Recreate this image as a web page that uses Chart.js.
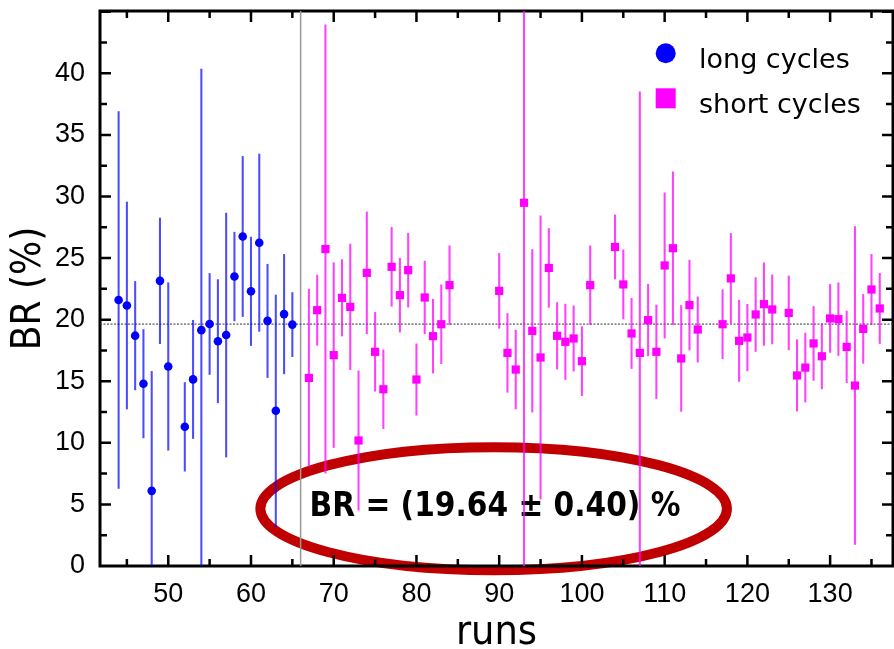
<!DOCTYPE html>
<html>
<head>
<meta charset="utf-8">
<title>BR vs runs</title>
<script src="https://cdn.jsdelivr.net/npm/chart.js@4.4.1/dist/chart.umd.min.js"></script>
<style>
  html, body { margin: 0; padding: 0; background: #fff; }
</style>
</head>
<body>
<canvas id="Chart" width="894" height="649"></canvas>
<script>
// long cycles (blue circles)
const longRuns = [44,45,46,47,48,49,50,52,53,54,55,56,57,58,59,60,61,62,63,64,65];
const longBR   = [21.6,21.15,18.7,14.8,6.1,23.15,16.2,11.3,15.15,19.15,19.65,18.25,18.75,23.5,26.75,22.3,26.25,19.9,12.6,20.45,19.6];
const longErr  = [15.3,8.4,4.4,4.4,9.7,5.1,6.8,3.6,4.8,21.2,4.1,5.0,9.9,3.6,6.5,4.4,7.2,4.6,9.4,4.85,2.6];

// short cycles (magenta squares)
const shortRuns = [67,68,69,70,71,72,73,74,75,76,77,78,79,80,81,82,83,84,
                   90,91,92,93,94,95,96,97,98,99,100,101,104,105,106,107,108,109,110,111,112,113,114,
                   117,118,119,120,121,122,123,125,126,127,128,129,130,131,132,133,134,135,136];
const shortBR   = [15.27,20.77,25.73,17.12,21.77,21.04,10.19,23.8,17.39,14.35,24.29,21.99,24.02,15.14,21.8,18.66,19.63,22.8,
                   22.34,17.3,15.95,29.49,19.09,16.93,24.2,18.69,18.2,18.47,16.63,22.8,25.9,22.86,18.88,17.3,19.96,17.39,24.4,25.8,16.85,21.18,19.2,
                   19.63,23.35,18.28,18.55,20.42,21.26,20.83,20.55,15.47,16.11,18.07,17.03,20.1,20.04,17.79,14.65,19.25,22.45,20.91];
const shortErr  = [7.2,2.85,18.2,7.5,3.1,5.1,5.65,4.95,3.2,3.2,3.2,3.0,3.0,2.9,2.95,3.0,3.2,3.2,
                   3.04,3.2,3.2,31,6.6,11.5,3.2,2.7,3.06,2.65,2.8,3.2,2.6,2.8,2.85,21.2,2.9,3.8,5.9,6.2,4.3,3.65,2.65,
                   2.8,3.65,3.3,2.7,3.0,3.35,2.8,3.0,2.9,2.8,3.0,2.65,2.76,2.95,2.9,12.9,2.8,2.85,2.85];

const brFit = 19.64;       // fitted value (dotted line)
const splitRun = 66;       // long / short separation
const fitText = 'BR = (19.64 \u00b1 0.40) %';

const xTicks = [50,60,70,80,90,100,110,120,130];
const yTicks = [0,5,10,15,20,25,30,35,40];
const xMin = 41.75, xMax = 137.6;
const yMin = 0, yMax = 45.06;

const errorBars = [];
const barColors = [];
longRuns.forEach((r, i) => {
  errorBars.push({x: r, y: [longBR[i] - longErr[i], longBR[i] + longErr[i]]});
  barColors.push('rgba(0,0,255,0.7)');
});
shortRuns.forEach((r, i) => {
  errorBars.push({x: r, y: [shortBR[i] - shortErr[i], shortBR[i] + shortErr[i]]});
  barColors.push('rgba(255,0,255,0.75)');
});

const narrow = "'Liberation Sans Narrow', 'DejaVu Sans Condensed', sans-serif";
const plain = "'Liberation Sans', Arial, sans-serif";

// frame with inward ticks, oval with the fit result, legend
const framePlugin = {
  id: 'frame',
  beforeDatasetsDraw(chart) {
    const {ctx, chartArea: a, scales: {x, y}} = chart;
    ctx.save();
    // oval
    const cx = x.getPixelForValue(89.33), cy = y.getPixelForValue(4.65);
    const rx = x.getPixelForValue(89.33 + 28.2) - cx;
    const ry = cy - y.getPixelForValue(4.65 + 5.0);
    ctx.strokeStyle = '#c00000';
    ctx.lineWidth = 10;
    ctx.beginPath();
    ctx.ellipse(cx, cy, rx, ry, 0, 0, 2 * Math.PI);
    ctx.stroke();
    ctx.fillStyle = '#000';
    ctx.font = "bold 33px 'DejaVu Sans Condensed', 'DejaVu Sans', sans-serif";
    ctx.textAlign = 'center';
    ctx.textBaseline = 'middle';
    ctx.fillText(fitText, x.getPixelForValue(89.5), y.getPixelForValue(4.73));

    // box
    ctx.strokeStyle = '#000';
    ctx.lineWidth = 3;
    ctx.strokeRect(a.left, a.top, a.right - a.left, a.bottom - a.top);
    ctx.lineWidth = 2.5;
    ctx.beginPath();
    for (let v = Math.ceil(xMin / 5) * 5; v <= xMax; v += 5) {
      const px = x.getPixelForValue(v);
      const len = v % 10 === 0 ? 11 : 7;
      ctx.moveTo(px, a.bottom); ctx.lineTo(px, a.bottom - len);
      ctx.moveTo(px, a.top); ctx.lineTo(px, a.top + len);
    }
    for (let v = 2.5; v < yMax; v += 2.5) {
      const py = y.getPixelForValue(v);
      const len = v % 5 === 0 ? 11 : 7;
      ctx.moveTo(a.left, py); ctx.lineTo(a.left + len, py);
      ctx.moveTo(a.right, py); ctx.lineTo(a.right - len, py);
    }
    ctx.stroke();
    ctx.restore();
  },
  afterDraw(chart) {
    const {ctx, chartArea: a} = chart;
    const ds = chart.data.datasets;
    ctx.save();
    ctx.fillStyle = ds[0].backgroundColor;
    ctx.beginPath();
    ctx.arc(a.right - 227.3, a.top + 42.3, 10, 0, 2 * Math.PI);
    ctx.fill();
    ctx.fillStyle = ds[1].backgroundColor;
    ctx.fillRect(a.right - 237.3, a.top + 77.3, 20, 20);
    ctx.fillStyle = '#000';
    ctx.font = "27px 'DejaVu Sans', sans-serif";
    ctx.textAlign = 'left';
    ctx.textBaseline = 'alphabetic';
    ctx.fillText(ds[0].label, a.right - 194, a.top + 57);
    ctx.fillText(ds[1].label, a.right - 194, a.top + 102);
    ctx.restore();
  }
};

const ctx = document.getElementById('Chart').getContext('2d');
const myChart = new Chart(ctx, {
  type: 'scatter',
  data: {
    datasets: [
      {
        label: 'long cycles',
        data: longRuns.map((r, i) => ({x: r, y: longBR[i]})),
        pointStyle: 'circle',
        pointRadius: 4.3,
        backgroundColor: '#0000ff',
        borderWidth: 0
      },
      {
        label: 'short cycles',
        data: shortRuns.map((r, i) => ({x: r, y: shortBR[i]})),
        pointStyle: 'rect',
        pointRadius: 5.8,
        backgroundColor: '#ff00ff',
        borderWidth: 0
      },
      {
        type: 'bar',
        label: 'errors',
        data: errorBars,
        backgroundColor: barColors,
        barThickness: 1.4,
        clip: 0
      },
      {
        type: 'line',
        label: 'fit',
        data: [{x: xMin, y: brFit}, {x: xMax, y: brFit}],
        borderColor: '#333',
        borderWidth: 1,
        borderDash: [2, 1.5],
        pointRadius: 0,
        showLine: true,
        clip: 0
      },
      {
        type: 'line',
        label: 'split',
        data: [{x: splitRun, y: yMin}, {x: splitRun, y: yMax}],
        borderColor: '#999',
        borderWidth: 1.5,
        pointRadius: 0,
        showLine: true,
        clip: 0
      }
    ]
  },
  options: {
    responsive: false,
    animation: false,
    devicePixelRatio: 1,
    events: [],
    layout: { autoPadding: false, padding: { top: 11, right: 1, left: 0, bottom: 0 } },
    plugins: { legend: { display: false }, tooltip: { enabled: false } },
    scales: {
      x: {
        type: 'linear',
        min: xMin,
        max: xMax,
        offset: false,
        grid: { display: false, drawTicks: false, offset: false },
        border: { display: false },
        afterBuildTicks: s => { s.ticks = xTicks.map(v => ({value: v})); },
        afterFit: s => { s.height = 83; s.paddingLeft = 0; s.paddingRight = 0; },
        ticks: { color: '#000', font: { family: plain, size: 27 }, padding: 12, maxRotation: 0, autoSkip: false },
        title: { display: true, text: 'runs', color: '#000', font: { family: narrow, size: 41, lineHeight: 0.75 }, padding: 0 }
      },
      y: {
        type: 'linear',
        min: yMin,
        max: yMax,
        grid: { display: false, drawTicks: false },
        border: { display: false },
        afterBuildTicks: s => { s.ticks = yTicks.map(v => ({value: v})); },
        afterFit: s => { s.width = 100; s.paddingTop = 0; s.paddingBottom = 0; },
        ticks: { color: '#000', font: { family: plain, size: 27 }, padding: 15, autoSkip: false },
        title: { display: true, text: 'BR (%)', color: '#000', font: { family: narrow, size: 40, lineHeight: 1 }, padding: { top: 10, bottom: 0 } }
      }
    }
  },
  plugins: [framePlugin]
});
</script>
</body>
</html>
